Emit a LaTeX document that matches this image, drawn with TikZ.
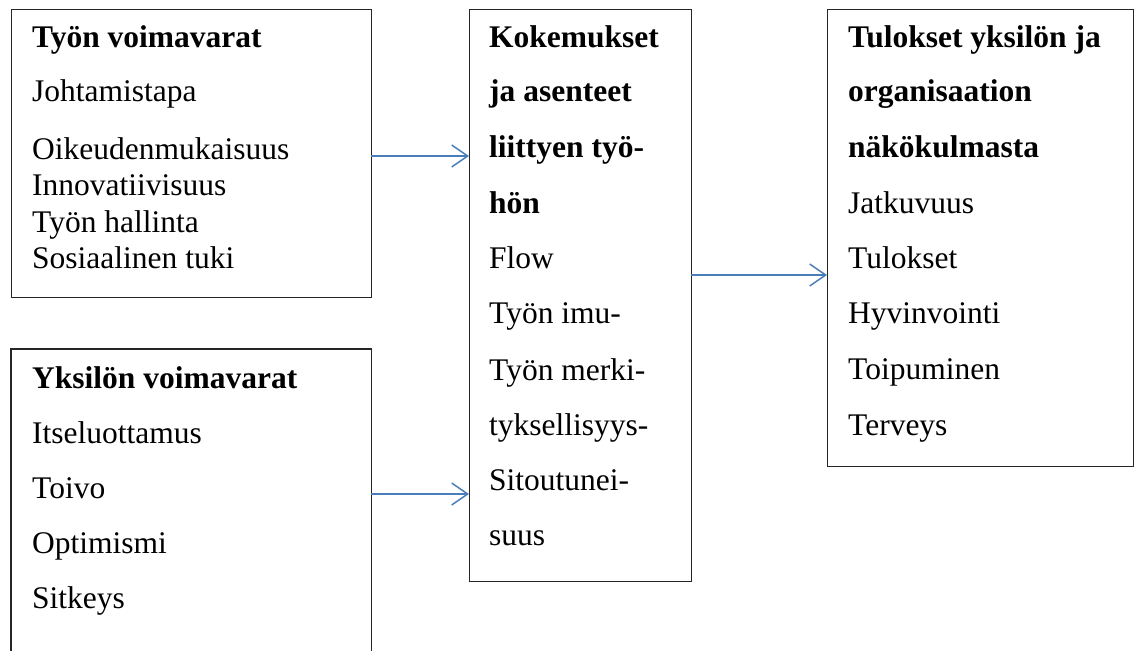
\documentclass[tikz,border=0pt]{standalone}
\usepackage{fontspec}
\setmainfont{Liberation Serif}
\usetikzlibrary{arrows.meta}
\definecolor{arrblue}{HTML}{4A7EBB}
\tikzset{
  x=1pt, y=-1pt,
  box/.style={draw=black!85, line width=1.2pt, anchor=north west, inner sep=0pt},
  txt/.style={anchor=base west, inner sep=0pt, font=\fontsize{31.5}{36}\selectfont},
  hd/.style={txt, font=\fontsize{31.5}{36}\selectfont\bfseries},
  arr/.style={draw=arrblue, line width=1.5pt, -{Straight Barb[length=16pt,width=22pt,line width=1.5pt]}}
}
\begin{document}
\begin{tikzpicture}
\useasboundingbox (0,0) rectangle (1139,650);
\clip (0,0) rectangle (1139,650);
% boxes
\node[box, minimum width=360, minimum height=288] (b1) at (11,9) {};
\node[anchor=north west, inner sep=0pt, minimum width=360, minimum height=320] (b2) at (11,349) {};
\draw[draw=black!85, line width=1.2pt] (b2.south west) -- (b2.north west) -- (b2.north east) -- (b2.south east);
\node[box, minimum width=222, minimum height=572] (b3) at (469,9) {};
\node[box, minimum width=306, minimum height=457] (b4) at (827,9) {};
% box 1 text
\node[hd]  (t11) at (32,48)  {Työn voimavarat};
\node[txt] (t12) at (32,102) {Johtamistapa};
\node[txt] (t13) at (32,159) {Oikeudenmukaisuus};
\node[txt] (t14) at (32,195) {Innovatiivisuus};
\node[txt] (t15) at (32,232) {Työn hallinta};
\node[txt] (t16) at (32,268) {Sosiaalinen tuki};
% box 2 text
\node[hd]  (t21) at (32,388) {Yksilön voimavarat};
\node[txt] (t22) at (32,443) {Itseluottamus};
\node[txt] (t23) at (32,498) {Toivo};
\node[txt] (t24) at (32,553) {Optimismi};
\node[txt] (t25) at (32,608) {Sitkeys};
% box 3 text
\node[hd]  (t31) at (489,48)  {Kokemukset};
\node[hd]  (t32) at (489,102) {ja asenteet};
\node[hd]  (t33) at (489,157) {liittyen työ-};
\node[hd]  (t34) at (489,213) {hön};
\node[txt] (t35) at (489,268) {Flow};
\node[txt] (t36) at (489,323) {Työn imu-};
\node[txt] (t37) at (489,380) {Työn merki-};
\node[txt] (t38) at (489,435) {tyksellisyys-};
\node[txt] (t39) at (489,490) {Sitoutunei-};
\node[txt] (t3a) at (489,545) {suus};
% box 4 text
\node[hd]  (t41) at (848,48)  {Tulokset yksilön ja};
\node[hd]  (t42) at (848,102) {organisaation};
\node[hd]  (t43) at (848,157) {näkökulmasta};
\node[txt] (t44) at (848,213) {Jatkuvuus};
\node[txt] (t45) at (848,268) {Tulokset};
\node[txt] (t46) at (848,323) {Hyvinvointi};
\node[txt] (t47) at (848,379) {Toipuminen};
\node[txt] (t48) at (848,435) {Terveys};
% connectors
\coordinate (a1) at (371,156);
\coordinate (a2) at (371,494);
\coordinate (a3) at (691,275);
\draw[arr] (a1) -- (b3.west |- a1);
\draw[arr] (a2) -- (b3.west |- a2);
\draw[arr] (a3) -- (b4.west |- a3);
\end{tikzpicture}
\end{document}
